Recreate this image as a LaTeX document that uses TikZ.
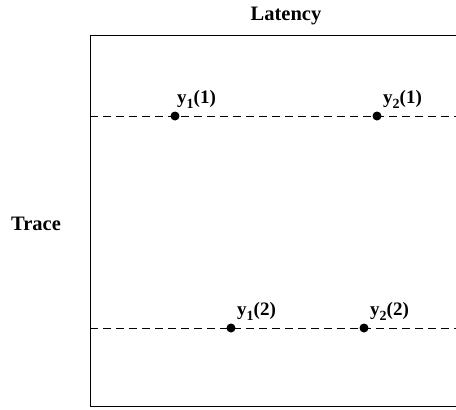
\documentclass[tikz,border=0pt]{standalone}
\usepackage{fontspec}
\setmainfont{Liberation Serif}
\newcommand{\subidx}[1]{\raisebox{-5pt}{\fontsize{14}{16}\selectfont #1}}
\begin{document}
\begin{tikzpicture}[x=1pt,y=-1pt,
  lbl/.style={font=\fontsize{19}{21}\selectfont\bfseries, inner sep=0pt},
  big/.style={font=\fontsize{20.5}{23}\selectfont\bfseries, inner sep=0pt},
  dot/.style={circle, fill=black, inner sep=0pt, minimum size=9pt},
  guide/.style={dashed, dash pattern=on 8pt off 5pt, line width=0.8pt}]
\useasboundingbox (0,0) rectangle (456,410);
\coordinate (tl) at (90,35);
\coordinate (tr) at (456,35);
\coordinate (bl) at (90,406);
\coordinate (br) at (456,406);
\draw[line width=1pt] (tr) -- (tl) -- (bl) -- (br);
\coordinate (d1a) at (90,116);
\coordinate (d1b) at (456,116);
\coordinate (d2a) at (90,328);
\coordinate (d2b) at (456,328);
\draw[guide] (d1a) -- (d1b);
\draw[guide] (d2a) -- (d2b);
\node[dot] (p11) at (175,116) {};
\node[dot] (p21) at (377,116) {};
\node[dot] (p12) at (231,328) {};
\node[dot] (p22) at (364,328) {};
\node[lbl, anchor=base west] (l11) at (177,103) {y\subidx{1}(1)};
\node[lbl, anchor=base west] (l21) at (383,103) {y\subidx{2}(1)};
\node[lbl, anchor=base west] (l12) at (237,315) {y\subidx{1}(2)};
\node[lbl, anchor=base west] (l22) at (370,315) {y\subidx{2}(2)};
\node[big] (lat) at (286,16) {Latency};
\node[big] (trc) at (36,224) {Trace};
\end{tikzpicture}
\end{document}
